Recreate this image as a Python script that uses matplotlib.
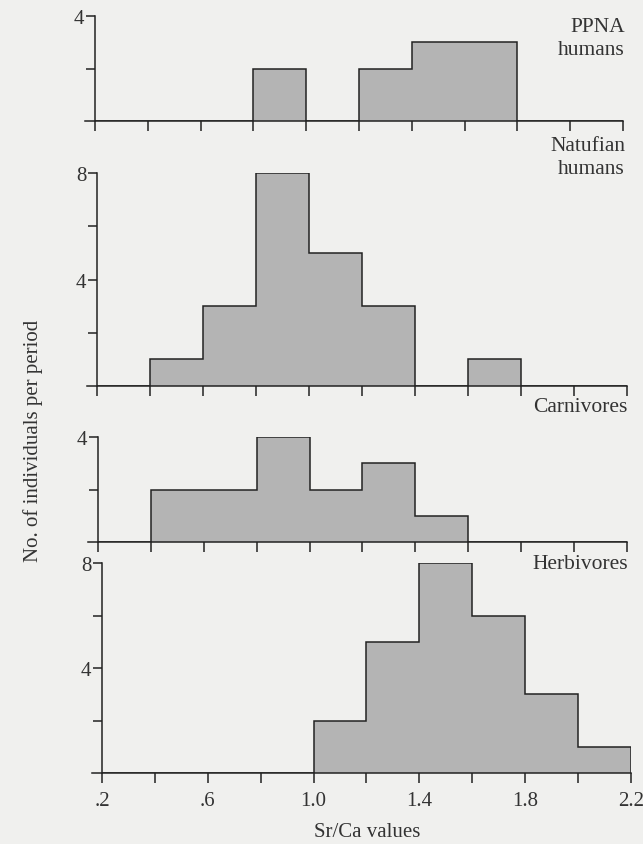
import matplotlib
matplotlib.use("Agg")
import matplotlib.pyplot as plt

# ---- data ----
bin_edges = [0.2, 0.4, 0.6, 0.8, 1.0, 1.2, 1.4, 1.6, 1.8, 2.0, 2.2]
ppna_counts = [0, 0, 0, 2, 0, 2, 3, 3, 0, 0]
natufian_counts = [0, 1, 3, 8, 5, 3, 0, 1, 0, 0]
carnivore_counts = [0, 2, 2, 4, 2, 3, 1, 0, 0, 0]
herbivore_counts = [0, 0, 0, 0, 2, 5, 8, 6, 3, 1]

panel_names = ["PPNA\nhumans", "Natufian\nhumans", "Carnivores", "Herbivores"]
x_ticks = [0.2, 0.4, 0.6, 0.8, 1.0, 1.2, 1.4, 1.6, 1.8, 2.0, 2.2]
x_ticklabels = [".2", "", ".6", "", "1.0", "", "1.4", "", "1.8", "", "2.2"]
y_label = "No. of individuals per period"
x_label = "Sr/Ca values"

W, H = 643, 845
BG = "#f0f0ee"
FILL = "#b4b4b4"
INK = "#222222"
TXT = "#333333"
FONT = ["Liberation Serif", "DejaVu Serif"]
FS = 15

plt.rcParams["font.family"] = FONT

fig = plt.figure(figsize=(W / 100, H / 100), dpi=100, facecolor=BG)

# layout in pixels: (y-axis x, right end x, top y, baseline y, ymax, yticks, ylabels, label center y, label right x)
layouts = [
    (95, 623, 17, 122, 4, [2, 4], ["", "4"], 39, 625),
    (97, 627, 174, 387, 8, [2, 4, 6, 8], ["", "4", "", "8"], 158, 625),
    (98, 627, 438, 543, 4, [2, 4], ["", "4"], 408, 627),
    (102, 631, 564, 774, 8, [2, 4, 6, 8], ["", "4", "", "8"], 565, 628),
]
series = [ppna_counts, natufian_counts, carnivore_counts, herbivore_counts]

for i, (counts, name, lay) in enumerate(zip(series, panel_names, layouts)):
    yx, rx, ty, by, ymax, yt, ytl, lab_y, lab_x = lay
    ext = 10  # px the x-axis extends left of the y-axis
    left_px = yx - ext
    ax = fig.add_axes([left_px / W, 1 - by / H, (rx - left_px) / W, (by - ty) / H])
    ax.set_facecolor("none")
    scale = (x_ticks[-1] - x_ticks[0]) / (rx - yx)
    ax.set_xlim(x_ticks[0] - ext * scale, x_ticks[-1])
    ax.set_ylim(0, ymax)

    ax.stairs(counts, bin_edges, fill=True, color=FILL, linewidth=0, zorder=2)
    ax.stairs(counts, bin_edges, baseline=0, color=INK, linewidth=1.1, zorder=3)

    for s in ["top", "right"]:
        ax.spines[s].set_visible(False)
    ax.spines["left"].set_position(("data", x_ticks[0]))
    for s in ["left", "bottom"]:
        ax.spines[s].set_color(INK)
        ax.spines[s].set_linewidth(1.1)
        ax.spines[s].set_zorder(4)

    ax.set_xticks(x_ticks)
    if i == 3:
        ax.set_xticklabels(x_ticklabels)
    else:
        ax.set_xticklabels([""] * len(x_ticks))
    ax.set_yticks(yt)
    ax.set_yticklabels(ytl)
    ax.tick_params(axis="x", direction="out", length=7, width=1.1, color=INK,
                   labelsize=FS, labelcolor=TXT, pad=6)
    ax.tick_params(axis="y", direction="out", length=6.5, width=1.1, color=INK,
                   labelsize=FS, labelcolor=TXT, pad=1)

    fig.text(lab_x / W, 1 - lab_y / H, name, ha="right", va="center",
             fontsize=FS + 0.5, color=TXT, linespacing=1.22, family=FONT)

fig.text(33 / W, 1 - 441 / H, y_label, rotation=90, ha="center", va="center",
         fontsize=FS, color=TXT, family=FONT)
fig.text(367 / W, 1 - 833 / H, x_label, ha="center", va="center",
         fontsize=FS, color=TXT, family=FONT)

fig.savefig("out.png", dpi=100, facecolor=BG)
